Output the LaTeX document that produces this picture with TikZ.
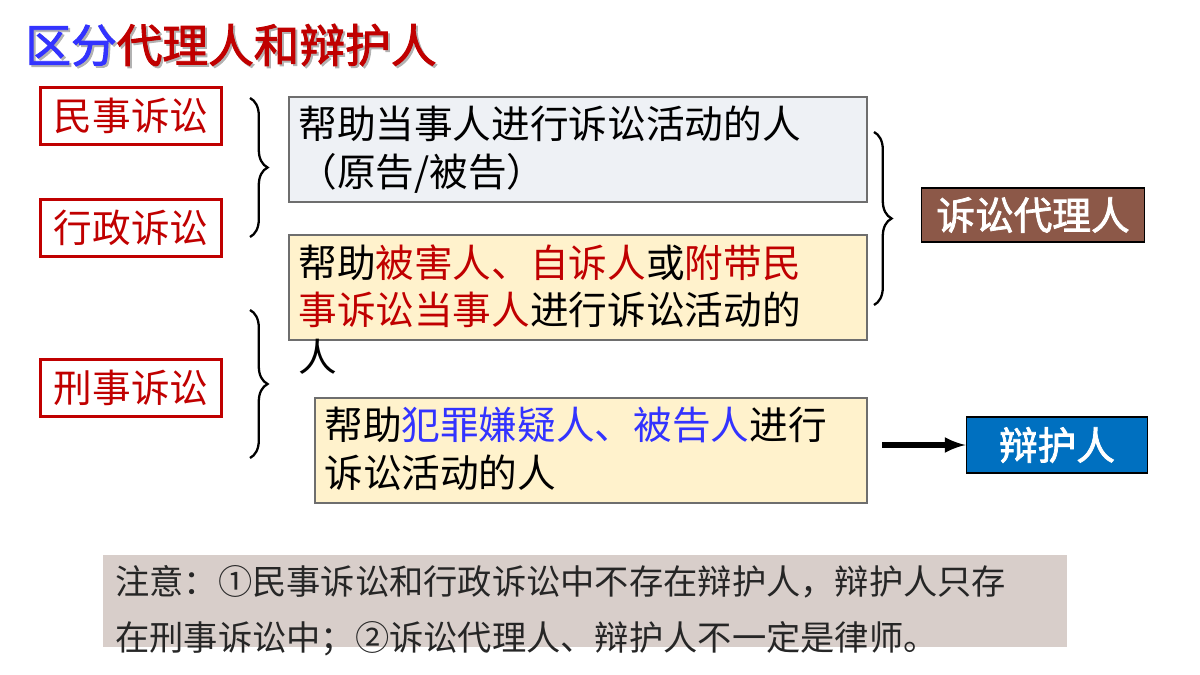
\documentclass[tikz,border=0pt]{standalone}
\usepackage{fontspec}
\setmainfont{Noto Sans CJK SC}
\newfontfamily\cjkbold{Noto Sans CJK SC}[FakeBold=2]
\usetikzlibrary{decorations.pathreplacing}
\definecolor{darkred}{RGB}{192,0,0}
\definecolor{titleblue}{RGB}{51,51,255}
\definecolor{greybox}{RGB}{238,241,245}
\definecolor{creambox}{RGB}{255,242,204}
\definecolor{brownbox}{RGB}{140,88,72}
\definecolor{bluebox}{RGB}{0,112,192}
\definecolor{notebox}{RGB}{216,206,202}
\definecolor{boxline}{RGB}{110,110,110}
\definecolor{blueword}{RGB}{51,51,255}

\begin{document}
\begin{tikzpicture}[x=0.02cm,y=-0.02cm]

  % Set up styles
  \tikzset{
      kind/.style={draw=darkred, line width=1.2pt, text=darkred, font=\fontsize{22}{26}\selectfont,
                   minimum width=3.62cm, minimum height=1.14cm, inner sep=0pt},
      textbox/.style={draw=boxline, line width=0.6pt},
      said/.style={anchor=north west, align=left, inner sep=0pt, font=\fontsize{22}{27}\selectfont},
      result/.style={draw=black, line width=1pt, text=white, font=\cjkbold\fontsize{22}{26}\selectfont,
                   inner sep=0pt},
      bracket/.style={decorate, decoration={brace, amplitude=10pt}, line width=1.3pt}
  }

  \useasboundingbox (0,0) rectangle (1200,675);

  % title
  \node[anchor=west, inner sep=0pt, text=gray!60, font=\cjkbold\fontsize{26}{30}\selectfont] at (27,47)
      {区分代理人和辩护人};
  \node[anchor=west, inner sep=0pt, font=\cjkbold\fontsize{26}{30}\selectfont] (title) at (25,45)
      {\textcolor{titleblue}{区分}\textcolor{darkred}{代理人和辩护人}};

  % kinds of lawsuit
  \node[kind] (civil) at (131,116) {民事诉讼};
  \node[kind] (admin) at (131,228) {行政诉讼};
  \node[kind] (crime) at (131,388) {刑事诉讼};

  % text boxes
  \draw[textbox, fill=greybox] (289,97) rectangle (867,202);
  \draw[textbox, fill=creambox] (289,235) rectangle (867,340);
  \draw[textbox, fill=creambox] (315,398) rectangle (867,503);
  \node[said] (party) at (298,106) {帮助当事人进行诉讼活动的人\\（原告/被告）};
  \node[said] (victim) at (298,244) {帮助\textcolor{darkred}{被害人、自诉人}或\textcolor{darkred}{附带民}\\
      \textcolor{darkred}{事诉讼当事人}进行诉讼活动的\\人};
  \node[said] (suspect) at (324,407) {帮助\textcolor{blueword}{犯罪嫌疑人、被告人}进行\\诉讼活动的人};

  % results
  \node[result, fill=brownbox, minimum width=4.46cm, minimum height=1.08cm] (agent) at (1033,215) {诉讼代理人};
  \node[result, fill=bluebox, minimum width=3.62cm, minimum height=1.12cm] (defender) at (1057,445) {辩护人};

  % braces
  \draw[bracket] (250,98) -- (250,237);
  \draw[bracket] (250,310) -- (250,458);
  \draw[bracket] (874,132) -- (874,305);

  % arrow
  \draw[-latex, line width=3pt] (882,445) -- (defender.west);

  % note
  \draw[draw=none, fill=notebox] (103,555) rectangle (1067,647);
  \node[said, font=\fontsize{19.5}{32}\selectfont, text=black!85] (note) at (115,565)
      {注意：①民事诉讼和行政诉讼中不存在辩护人，辩护人只存\\在刑事诉讼中；②诉讼代理人、辩护人不一定是律师。};

\end{tikzpicture}
\end{document}
